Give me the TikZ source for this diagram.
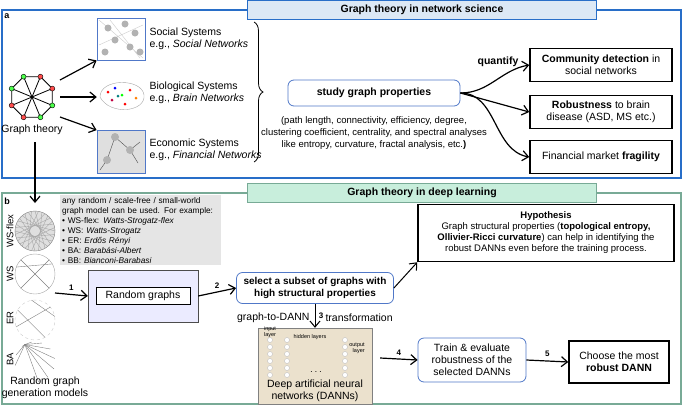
\documentclass[tikz,border=0pt]{standalone}
\usepackage{fontspec}
\setmainfont{Liberation Sans}
\usetikzlibrary{arrows.meta,decorations.pathreplacing}
\definecolor{pblue}{RGB}{40,110,200}
\definecolor{lblue}{RGB}{220,232,245}
\definecolor{pgreen}{RGB}{120,170,150}
\definecolor{lgreen}{RGB}{200,238,220}
\definecolor{rblue}{RGB}{80,120,200}
\definecolor{beige}{RGB}{235,225,205}
\tikzset{
 x=1pt,y=-1pt,
 arr/.style={-{Straight Barb[length=6pt,width=10pt]},line width=1.2pt},
 rbox/.style={draw=rblue,rounded corners=6pt,line width=0.8pt,fill=white,align=center},
 kbox/.style={draw=black,line width=1.5pt,fill=white,align=center},
 title/.style={draw=pblue,line width=1pt,font=\bfseries\fontsize{10.5}{12}\selectfont,minimum width=349pt,minimum height=19pt},
 txt/.style={font=\fontsize{10.5}{12}\selectfont,align=center},
 small/.style={font=\fontsize{8.3}{10}\selectfont,align=left},
 num/.style={font=\bfseries\fontsize{8}{9}\selectfont},
 img/.style={draw=rblue,line width=0.8pt},
}
\begin{document}
\begin{tikzpicture}
\useasboundingbox (0,0) rectangle (685,407);
% panel a
\draw[pblue,line width=1.5pt] (2,10) rectangle (681,178);
\node[title,fill=lblue] (ta) at (422,10) {Graph theory in network science};
\node[font=\bfseries\fontsize{9}{10}\selectfont] (la) at (7,16) {a};
% graph icon
\foreach \i in {0,...,7}{\coordinate (o\i) at ({32+22*cos(45*\i+22.5)},{97-22*sin(45*\i+22.5)});}
\draw[thick] (o0)--(o1)--(o2)--(o3)--(o4)--(o5)--(o6)--(o7)--cycle;
\draw[thick] (o1)--(o5) (o2)--(o6) (o0)--(o4) (o3)--(o7);
\foreach \i/\c in {0/red,1/red,2/green,3/green,4/red,5/red,6/green,7/green}{\fill[\c!70!white,draw=black] (o\i) circle (2.5);}
\node[txt] (gt) at (32,130) {Graph theory};
% images
\node[img,minimum width=48pt,minimum height=42pt,fill=white] (soc) at (121,39) {};
\draw[gray!40] (99,20)--(143,58) (99,45)--(143,25) (110,20)--(140,58);
\foreach \p in {(108,28),(125,24),(135,33),(115,40),(130,47),(105,52),(140,52)}{\fill[gray!60] \p circle (3.5);}
\node[draw=none,minimum width=48pt,minimum height=36pt] (bio) at (121,97) {};
\draw[gray!70,fill=white] (100,97) .. controls (100,78) and (142,78) .. (144,95) .. controls (146,112) and (110,116) .. (100,97);
\foreach \p/\c in {(108,92)/red,(115,88)/blue,(122,95)/green,(130,90)/red,(136,98)/orange,(112,100)/purple,(125,104)/red,(118,96)/teal}{\fill[\c] \p circle (1.5);}
\node[img,minimum width=48pt,minimum height=43pt,fill=gray!25] (eco) at (121,152) {};
\draw[black!70] (115,137)--(130,150)--(140,142) (107,160)--(100,170) (115,137)--(107,160) (130,150)--(138,163);
\foreach \p in {(115,137),(130,150),(107,160)}{\fill[gray!60] \p circle (4);}
\node[txt,align=left,anchor=west] (st1) at (146,39) {Social Systems\\e.g., \textit{Social Networks}};
\node[txt,align=left,anchor=west] (st2) at (146,93) {Biological Systems\\e.g., \textit{Brain Networks}};
\node[txt,align=left,anchor=west] (st3) at (146,150) {Economic Systems\\e.g., \textit{Financial Networks}};
\draw[arr] (60,80)--(soc.south west);
\draw[arr] (60,97)--(bio.west);
\draw[arr] (60,117)--(eco.north west);
\draw[decorate,decoration={brace,amplitude=9pt},thick] (254,22)--(254,162);
\node[rbox,minimum width=172pt,minimum height=26pt,font=\bfseries\fontsize{10.5}{12}\selectfont] (sgp) at (374,93) {study graph properties};
\node[font=\fontsize{9.5}{12}\selectfont,align=center] (props) at (374,133) {(path length, connectivity, efficiency, degree,\\clustering coefficient, centrality, and spectral analyses\\like entropy, curvature, fractal analysis, etc.\textbf{)}};
\node[kbox,minimum width=142pt,minimum height=33pt,txt] (r1) at (601,65) {\textbf{Community detection} in\\social networks};
\node[kbox,minimum width=142pt,minimum height=33pt,txt] (r2) at (601,112) {\textbf{Robustness} to brain\\disease (ASD, MS etc.)};
\node[kbox,minimum width=142pt,minimum height=33pt,txt] (r3) at (601,157) {Financial market \textbf{fragility}};
\node[txt,font=\bfseries\fontsize{10.5}{12}\selectfont] (q) at (498,62) {quantify};
\draw[arr] (sgp.east) to[out=0,in=190] (r1.west);
\draw[arr] (sgp.east) -- (r2.west);
\draw[arr] (sgp.east) to[out=0,in=170] (r3.west);
% panel b
\draw[pgreen,line width=1.5pt] (2,193) rectangle (681,404);
\node[title,draw=pgreen,fill=lgreen] (tb) at (422,193) {Graph theory in deep learning};
\coordinate (gs) at (35,142);
\draw[arr] (gs) -- (35,203);
\node[font=\bfseries\fontsize{9}{10}\selectfont] (lb) at (7,201) {b};
\node[fill=gray!20,small,minimum width=160pt,minimum height=68pt,text width=157pt,inner sep=2pt,anchor=north west] (gbox) at (60,195) {any random / scale-free / small-world graph model can be used. For example:\\
• WS-flex: \textit{Watts-Strogatz-flex}\\
• WS: \textit{Watts-Strogatz}\\
• ER: \textit{Erd\H{o}s Rényi}\\
• BA: \textit{Barabási-Albert}\\
• BB: \textit{Bianconi-Barabasi}};
% random graph circles
\node[draw=gray,circle,fill=gray!25,minimum size=40pt] (c1) at (35,231) {};
\foreach \a in {0,20,...,340}{\draw[gray!70] (c1.\a) -- (c1.\a+150);}
\node[draw=gray!70,circle,minimum size=40pt] (c2) at (35,274) {};
\draw[gray] (c2.135)--(c2.-45) (c2.45)--(c2.-135) (c2.160)--(c2.30);
\node[circle,minimum size=40pt,dashed,draw=gray!40] (c3) at (35,320) {};
\draw[gray] (c3.100)--(c3.10) (c3.150)--(c3.-60) (c3.200)--(c3.40);
\node[circle,minimum size=40pt,draw=none] (c4) at (35,362) {};
\foreach \a in {-80,-50,...,200}{\draw[gray] (c4.120)--(c4.\a);}
\node[rotate=90,txt,font=\fontsize{9.5}{10}\selectfont] (l1) at (10,231) {WS-flex};
\node[rotate=90,txt,font=\fontsize{9.5}{10}\selectfont] (l2) at (10,274) {WS};
\node[rotate=90,txt,font=\fontsize{9.5}{10}\selectfont] (l3) at (10,318) {ER};
\node[rotate=90,txt,font=\fontsize{9.5}{10}\selectfont] (l4) at (10,359) {BA};
\node[txt] (rgm) at (45,388) {Random graph\\generation models};
\node[draw=gray!60!black,fill=blue!8,minimum width=110pt,minimum height=52pt] (rgimg) at (143,296) {};
\node[draw=black,fill=white,minimum width=94pt,minimum height=17pt,txt] (rg) at (143,296) {Random graphs};
\draw[arr] (55,293) -- node[above,num]{1} (rgimg.west);
\node[rbox,minimum width=157pt,minimum height=31pt,font=\bfseries\fontsize{10}{12}\selectfont] (sel) at (315,288) {select a subset of graphs with\\high structural properties};
\draw[arr] (rgimg.east) -- node[above,num]{2} (sel.west);
\node[kbox,minimum width=256pt,minimum height=57pt,font=\fontsize{9.5}{11}\selectfont] (hyp) at (546,233) {\textbf{Hypothesis}\\Graph structural properties (\textbf{topological entropy,}\\\textbf{Ollivier-Ricci curvature}) can help in identifying the\\robust DANNs even before the training process.};
\draw[arr,line width=1pt] (sel.east) -- (hyp.south west);
\node[fill=beige,draw=gray,minimum width=114pt,minimum height=76pt] (dann) at (315,366) {};
\foreach \x in {270,287,345}{\foreach \y in {340,347,...,375}{\draw[gray!50,fill=white] (\x,\y) circle (2.5);}}
\node[font=\fontsize{5.5}{6}\selectfont,align=left] at (270,332) {input\\layer};
\node[font=\fontsize{5.5}{6}\selectfont] at (310,337) {hidden layers};
\node[font=\fontsize{5.5}{6}\selectfont,align=right] at (357,348) {output\\layer};
\node[font=\bfseries] at (316,372) {$\cdots$};
\node[txt,fill=beige,inner sep=1pt] at (315,391) {Deep artificial neural\\networks (DANNs)};
\draw[arr,line width=1pt] (sel.south) -- node[right,num]{3} (dann.north);
\node[txt,anchor=east] (g2d) at (313,318) {graph-to-DANN};
\node[txt,anchor=west] (trf) at (322,318) {transformation};
\node[rbox,minimum width=108pt,minimum height=44pt,txt] (tr) at (472,360) {Train \& evaluate\\robustness of the\\selected DANNs};
\draw[arr] (dann.east) ++(8,-8) coordinate (d4) -- node[above,num]{4} (tr.west);
\node[kbox,minimum width=100pt,minimum height=42pt,txt] (ch) at (619,362) {Choose the most\\\textbf{robust DANN}};
\draw[arr] (tr.east) -- node[above,num]{5} (ch.west);
\end{tikzpicture}
\end{document}
